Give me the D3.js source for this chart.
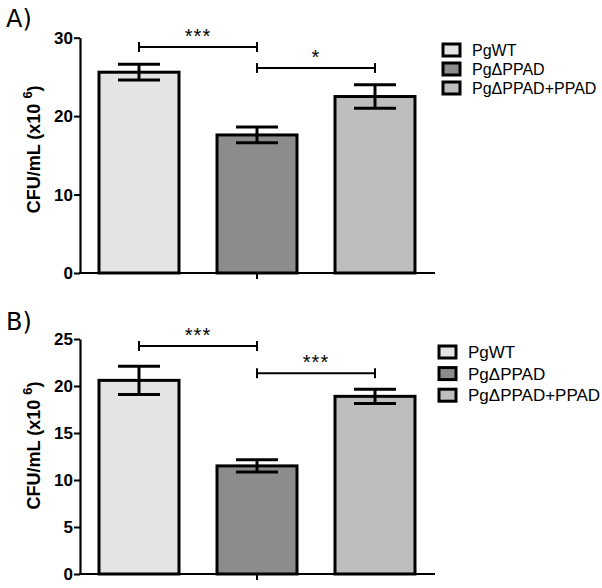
<!DOCTYPE html>
<html><head><meta charset="utf-8">
<script src="https://cdn.jsdelivr.net/npm/d3@7"></script>
<style>body{margin:0;background:#fff}svg{display:block}</style>
</head><body>
<svg id="c" width="602" height="588"></svg>
<script>
const categories = ["PgWT", "Pg\u0394PPAD", "Pg\u0394PPAD+PPAD"];
const colors = ["#e4e4e4", "#8c8c8c", "#bebebe"];
const valuesA = [25.6, 17.6, 22.5];
const errorsA = [1.0, 1.0, 1.5];
const valuesB = [20.6, 11.5, 18.9];
const errorsB = [1.5, 0.65, 0.75];
const ticksA = [0, 10, 20, 30];
const ticksB = [0, 5, 10, 15, 20, 25];
const sigA = [{from: 0, to: 1, label: "***", level: 28.8}, {from: 1, to: 2, label: "*", level: 26.15}];
const sigB = [{from: 0, to: 1, label: "***", level: 24.25}, {from: 1, to: 2, label: "***", level: 21.35}];

const svg = d3.select("#c");

function panel(o) {
  const g = svg.append("g");
  const x = d3.scaleBand().domain(categories).range([80, 434]).padding(0);
  const barW = 80;
  const y = d3.scaleLinear().domain([0, o.max]).range([o.bottom, o.top]);

  g.selectAll("rect.bar").data(o.values).join("rect")
    .attr("x", (d, i) => x(categories[i]) + (x.bandwidth() - barW) / 2)
    .attr("y", d => y(d)).attr("width", barW).attr("height", d => y(0) - y(d))
    .attr("fill", (d, i) => colors[i]).attr("stroke", "#000").attr("stroke-width", 3);

  const eg = g.append("g").attr("stroke", "#000").attr("stroke-width", 3);
  o.values.forEach((v, i) => {
    const cx = x(categories[i]) + x.bandwidth() / 2;
    const e = o.errors[i];
    eg.append("line").attr("x1", cx).attr("x2", cx).attr("y1", y(v + e)).attr("y2", y(v - e));
    eg.append("line").attr("x1", cx - 21).attr("x2", cx + 21).attr("y1", y(v + e)).attr("y2", y(v + e));
    eg.append("line").attr("x1", cx - 21).attr("x2", cx + 21).attr("y1", y(v - e)).attr("y2", y(v - e));
  });

  const ya = g.append("g").attr("transform", "translate(80,0)")
    .call(d3.axisLeft(y).tickValues(o.ticks).tickSize(6).tickPadding(1).tickSizeOuter(0));
  ya.select(".domain").attr("stroke-width", 2.2);
  ya.selectAll(".tick line").attr("stroke-width", 2);
  ya.selectAll("text").attr("font-family", "Liberation Sans, Arial, sans-serif")
    .attr("font-weight", "bold").attr("font-size", 17).attr("fill", "#000");

  g.append("line").attr("x1", 79).attr("x2", 435).attr("y1", y(0)).attr("y2", y(0))
    .attr("stroke", "#000").attr("stroke-width", 2.2);
  const mid = x(categories[1]) + x.bandwidth() / 2;
  g.append("line").attr("x1", mid).attr("x2", mid).attr("y1", y(0)).attr("y2", y(0) + 6)
    .attr("stroke", "#000").attr("stroke-width", 2);

  const lab = g.append("text")
    .attr("transform", `translate(39.5,${(o.top + o.bottom) / 2 - o.labShift}) rotate(-90)`)
    .attr("text-anchor", "middle").attr("font-family", "Liberation Sans, Arial, sans-serif")
    .attr("font-weight", "bold").attr("font-size", 18).attr("fill", "#000");
  lab.append("tspan").text("CFU/mL (x10 ");
  lab.append("tspan").attr("dy", -8).attr("font-size", 13).text("6");
  lab.append("tspan").attr("dy", 8).text(")");

  o.sig.forEach(s => {
    const x1 = x(categories[s.from]) + x.bandwidth() / 2;
    const x2 = x(categories[s.to]) + x.bandwidth() / 2;
    const yy = y(s.level);
    const bg = g.append("g").attr("stroke", "#000").attr("stroke-width", 2);
    bg.append("line").attr("x1", x1).attr("x2", x2).attr("y1", yy).attr("y2", yy);
    bg.append("line").attr("x1", x1).attr("x2", x1).attr("y1", yy - 5).attr("y2", yy + 5);
    bg.append("line").attr("x1", x2).attr("x2", x2).attr("y1", yy - 5).attr("y2", yy + 5);
    g.append("text").attr("x", (x1 + x2) / 2).attr("y", yy - 4).attr("text-anchor", "middle")
      .attr("font-family", "Liberation Sans, Arial, sans-serif").attr("font-size", 20)
      .attr("letter-spacing", 1).attr("fill", "#000").text(s.label);
  });

  const lg = g.append("g");
  categories.forEach((c, i) => {
    const cy = o.legY + i * o.legStep;
    lg.append("rect").attr("x", o.legX).attr("y", cy - 6).attr("width", 17).attr("height", 12)
      .attr("fill", colors[i]).attr("stroke", "#000").attr("stroke-width", 3);
    lg.append("text").attr("x", o.legX + 29).attr("y", cy + 6)
      .attr("font-family", "Liberation Sans, Arial, sans-serif").attr("font-size", o.legFont)
      .attr("fill", "#000").text(c);
  });

  g.append("text").attr("x", 6).attr("y", o.letterY)
    .attr("font-family", "DejaVu Sans, sans-serif").attr("font-size", 24).attr("fill", "#000")
    .text(o.letter);
}

panel({values: valuesA, errors: errorsA, ticks: ticksA, max: 30, top: 37.7, bottom: 273,
  sig: sigA, legX: 443, legY: 50, legStep: 19, legFont: 16, letter: "A)", letterY: 27, labShift: 6});
panel({values: valuesB, errors: errorsB, ticks: ticksB, max: 25, top: 339, bottom: 574,
  sig: sigB, legX: 439, legY: 352, legStep: 21.6, legFont: 17, letter: "B)", letterY: 330, labShift: 11});
</script>
</body></html>
